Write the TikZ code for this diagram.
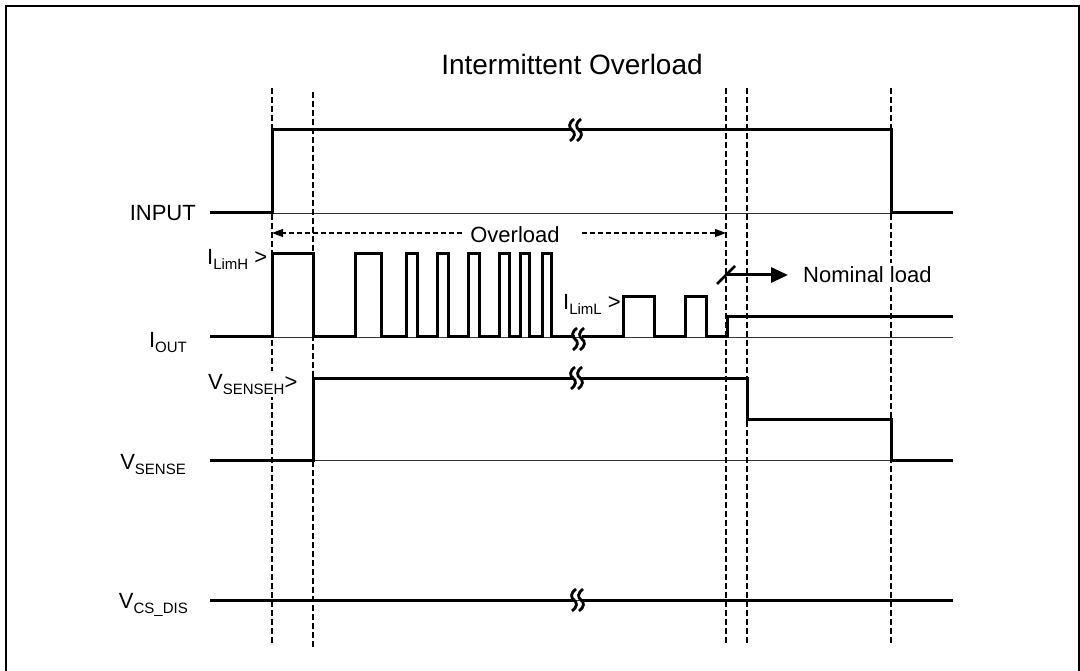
\documentclass[tikz,border=0pt]{standalone}
\usepackage{fontspec}
\setmainfont{Liberation Sans}
\usetikzlibrary{arrows.meta}
\newcommand\lsb[1]{\raisebox{-5pt}{\fontsize{15}{15}\selectfont #1}}
\tikzset{
  lbl/.style={inner sep=0pt, font=\fontsize{22}{26}\selectfont},
  sig/.style={line width=3pt, line join=miter},
  base/.style={line width=0.9pt, black!80},
  vdash/.style={line width=1.1pt, dash pattern=on 6pt off 3pt},
  hdash/.style={line width=1.1pt, dash pattern=on 5pt off 3pt},
  brk/.pic={
    \draw[line width=2.8pt] (-1.5,-11) .. controls (-7,-7) and (-7,-2.5) .. (-3.5,0) .. controls (0,2.5) and (0,7) .. (-5.5,11);
    \draw[line width=2.8pt] (5.5,-11) .. controls (0,-7) and (0,-2.5) .. (3.5,0) .. controls (7,2.5) and (7,7) .. (1.5,11);
  }
}
\begin{document}
\begin{tikzpicture}[x=1pt,y=-1pt]
\useasboundingbox (0,0) rectangle (1080,671);
% frame
\draw[line width=2pt] (6,672) -- (6,6) -- (1079,6) -- (1079,672);
% title
\node[lbl, font=\fontsize{28}{31}\selectfont, anchor=base] (title) at (572,75) {Intermittent Overload};
% baselines
\draw[base] (210,213) -- (953,213);
\draw[base] (210,337) -- (953,337);
\draw[base] (210,460) -- (953,460);
\draw[base] (210,600) -- (953,600);
% dashed verticals
\draw[vdash] (272,88) -- (272,643);
\draw[vdash] (313,92) -- (313,648);
\draw[vdash] (726,88) -- (726,645);
\draw[vdash] (747,88) -- (747,645);
\draw[vdash] (891,88) -- (891,645);
% labels
\node[lbl, anchor=base east] (lin) at (196,221) {INPUT};
\node[lbl, anchor=base east] (lio) at (187,348) {I\lsb{OUT}};
\node[lbl, anchor=base west] (lih) at (207,265) {I\lsb{LimH} >};
\node[lbl, anchor=base west, fill=white, inner ysep=3pt] (lvh) at (208,389) {V\lsb{SENSEH}>};
\node[lbl, anchor=base east] (lvs) at (186,469) {V\lsb{SENSE}};
\node[lbl, anchor=base east] (lcs) at (188,608) {V\lsb{CS\_DIS}};
\node[lbl, anchor=base west] (lil) at (563,310) {I\lsb{LimL} >};
\node[lbl, anchor=base west, fill=white, inner ysep=4pt] (nom) at (803,283) {Nominal load};
\node[lbl, anchor=base] (ovl) at (515,243) {Overload};
% overload arrows
\coordinate (ovL) at (272,233);
\coordinate (ovR) at (726,233);
\draw[hdash, -{Triangle[length=11pt,width=8pt]}] (462,233) -- (ovL);
\draw[hdash, -{Triangle[length=11pt,width=8pt]}] (582,233) -- (ovR);
% nominal load arrow and slash
\coordinate (nA) at (727,275);
\coordinate (nB) at (788,275);
\draw[line width=3pt, -{Triangle[length=17pt,width=15pt]}] (nA) -- (nB);
\draw[line width=2.5pt] (717,284) -- (735,266);
% INPUT
\draw[sig] (210,213) -- (272,213) -- (272,130) -- (572,130);
\pic at (575.5,130) {brk};
\draw[sig] (579,130) -- (891,130) -- (891,213) -- (953,213);
% IOUT
\draw[sig] (210,337) -- (272,337) -- (272,254) -- (313,254) -- (313,337)
  -- (355,337) -- (355,254) -- (381,254) -- (381,337)
  -- (406,337) -- (406,254) -- (417,254) -- (417,337)
  -- (437,337) -- (437,254) -- (448,254) -- (448,337)
  -- (468,337) -- (468,254) -- (479,254) -- (479,337)
  -- (499,337) -- (499,254) -- (509,254) -- (509,337)
  -- (520,337) -- (520,254) -- (529,254) -- (529,337)
  -- (542,337) -- (542,254) -- (551,254) -- (551,337) -- (575,337);
\pic at (578.5,339) {brk};
\draw[sig] (582,337) -- (623,337) -- (623,297) -- (654,297) -- (654,337)
  -- (685,337) -- (685,297) -- (706,297) -- (706,337)
  -- (727,337) -- (727,317) -- (953,317);
% VSENSE
\draw[sig] (210,460) -- (313,460) -- (313,378) -- (573,378);
\pic at (576.5,378) {brk};
\draw[sig] (580,378) -- (747,378) -- (747,419) -- (891,419) -- (891,460) -- (953,460);
% VCS_DIS
\draw[sig] (210,600) -- (574,600);
\pic at (577.5,600) {brk};
\draw[sig] (581,600) -- (953,600);
\end{tikzpicture}
\end{document}
